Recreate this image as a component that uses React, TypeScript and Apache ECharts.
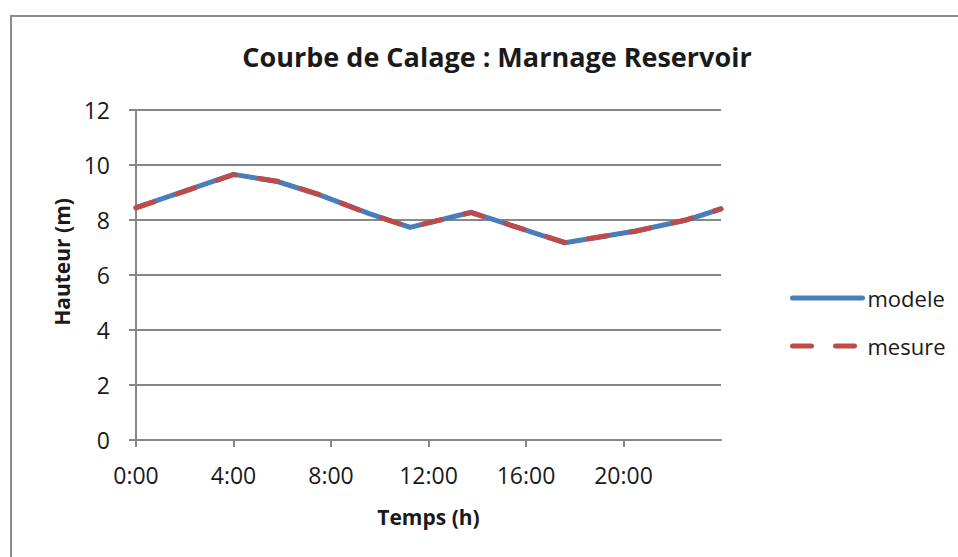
import React, { useEffect, useRef } from "react";
import * as echarts from "echarts";

const TITLE = "Courbe de Calage : Marnage Reservoir";
const X_NAME = "Temps (h)";
const Y_NAME = "Hauteur (m)";
const SERIES_NAMES = ["modele", "mesure"];
const X_TICKS = [0, 4, 8, 12, 16, 20];
const times = [0, 4, 5.8, 7.5, 9.6, 11.25, 13.75, 17.6, 20.5, 22.5, 24];
const modele = [8.45, 9.66, 9.4, 8.92, 8.22, 7.73, 8.28, 7.17, 7.6, 7.98, 8.4];
const mesure = [8.44, 9.65, 9.41, 8.93, 8.21, 7.74, 8.27, 7.18, 7.59, 7.99, 8.41];

const FONT = "'Open Sans', 'Noto Sans', sans-serif";
const GRID_COLOR = "#878787";
const TEXT_COLOR = "#1a1a1a";

export default function App() {
  const ref = useRef<HTMLDivElement>(null);
  useEffect(() => {
    if (!ref.current) return;
    const chart = echarts.init(ref.current, undefined, { renderer: "svg" });
    const toPairs = (vals: number[]) => times.map((t, i) => [t, vals[i]]);
    chart.setOption({
      animation: false,
      backgroundColor: "#ffffff",
      textStyle: { fontFamily: FONT },
      graphic: [
        {
          type: "rect",
          shape: { x: 11, y: 16, width: 1000, height: 700 },
          style: { fill: "none", stroke: "#8c8c8c", lineWidth: 2 },
          silent: true,
        },
        {
          type: "text",
          x: 62,
          y: 262,
          rotation: Math.PI / 2,
          style: {
            text: Y_NAME,
            fontFamily: FONT,
            fontSize: 21,
            fontWeight: "bold",
            fill: TEXT_COLOR,
            textAlign: "center",
            textVerticalAlign: "middle",
          },
          silent: true,
        },
      ],
      title: {
        text: TITLE,
        left: 492,
        textAlign: "center",
        top: 38,
        textStyle: { fontFamily: FONT, fontSize: 27, fontWeight: "bold", color: TEXT_COLOR },
      },
      legend: {
        orient: "vertical",
        left: 785,
        top: 282,
        itemWidth: 70,
        itemHeight: 22,
        itemGap: 26,
        itemStyle: { opacity: 0 },
        lineStyle: { width: 5, cap: "round" },
        data: [{ name: SERIES_NAMES[0] }, { name: SERIES_NAMES[1] }],
        textStyle: { fontFamily: FONT, fontSize: 22, color: TEXT_COLOR },
      },
      grid: { left: 136, right: 237, top: 110, bottom: 117 },
      xAxis: {
        type: "value",
        min: 0,
        max: 24,
        interval: 4,
        name: X_NAME,
        nameLocation: "middle",
        nameGap: 66,
        nameTextStyle: { fontFamily: FONT, fontSize: 21, fontWeight: "bold", color: TEXT_COLOR },
        axisLine: { show: true, lineStyle: { color: GRID_COLOR, width: 2 } },
        axisTick: { show: true, length: 7, customValues: X_TICKS, lineStyle: { color: GRID_COLOR, width: 2 } },
        axisLabel: {
          customValues: X_TICKS,
          formatter: (v: number) => `${v}:00`,
          fontFamily: FONT,
          fontSize: 23,
          color: TEXT_COLOR,
          margin: 23,
        },
        splitLine: { show: false },
      },
      yAxis: {
        type: "value",
        min: 0,
        max: 12,
        interval: 2,
        axisLine: { show: true, lineStyle: { color: GRID_COLOR, width: 2 } },
        axisTick: { show: true, length: 7, lineStyle: { color: GRID_COLOR, width: 2 } },
        axisLabel: { fontFamily: FONT, fontSize: 23, color: TEXT_COLOR, margin: 26 },
        splitLine: { show: true, lineStyle: { color: GRID_COLOR, width: 2 } },
      },
      series: [
        {
          name: SERIES_NAMES[0],
          type: "line",
          data: toPairs(modele),
          symbol: "none",
          color: "#4a7ebb",
          lineStyle: { color: "#4a7ebb", width: 5, cap: "round", join: "round" },
        },
        {
          name: SERIES_NAMES[1],
          type: "line",
          data: toPairs(mesure),
          symbol: "none",
          color: "#be4b48",
          lineStyle: { color: "#be4b48", width: 5, type: [19, 24], cap: "round", join: "round" },
        },
      ],
    });
    return () => chart.dispose();
  }, []);
  return (
    <div
      ref={ref}
      style={{ position: "fixed", left: 0, top: 0, width: 958, height: 557 }}
    />
  );
}
